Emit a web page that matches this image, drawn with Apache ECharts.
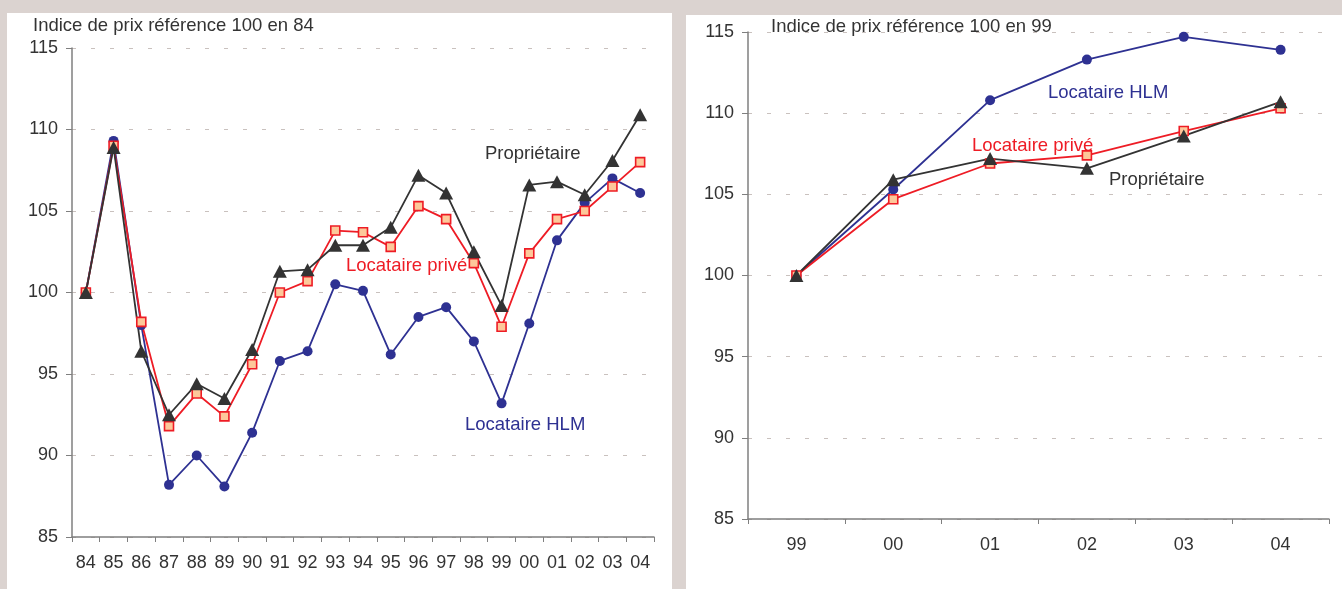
<!DOCTYPE html>
<html>
<head>
<meta charset="utf-8">
<script src="https://cdn.jsdelivr.net/npm/echarts@6/dist/echarts.min.js"></script>
<style>
  html, body { margin: 0; padding: 0; background: #dbd3d0; }
  #chart { width: 1342px; height: 589px; }
</style>
</head>
<body>
<div id="chart"></div>
<script>
// Years 1984-2004 (base 100 in 84)
const yearsLong = ['84','85','86','87','88','89','90','91','92','93','94','95','96','97','98','99','00','01','02','03','04'];
const hlmLong = [100, 109.3, 98.0, 88.2, 90.0, 88.1, 91.4, 95.8, 96.4, 100.5, 100.1, 96.2, 98.5, 99.1, 97.0, 93.2, 98.1, 103.2, 105.5, 107.0, 106.1];
const priveLong = [100, 109.0, 98.2, 91.8, 93.8, 92.4, 95.6, 100.0, 100.7, 103.8, 103.7, 102.8, 105.3, 104.5, 101.8, 97.9, 102.4, 104.5, 105.0, 106.5, 108.0];
const proprioLong = [100, 108.9, 96.4, 92.5, 94.4, 93.5, 96.5, 101.3, 101.4, 102.9, 102.9, 104.0, 107.2, 106.1, 102.5, 99.2, 106.6, 106.8, 106.0, 108.1, 110.9];

// Years 1999-2004 (base 100 in 99)
const yearsShort = ['99','00','01','02','03','04'];
const hlmShort = [100, 105.3, 110.8, 113.3, 114.7, 113.9];
const priveShort = [100, 104.7, 106.9, 107.4, 108.9, 110.3];
const proprioShort = [100, 105.9, 107.2, 106.6, 108.6, 110.7];

const titleLong = 'Indice de prix référence 100 en 84';
const titleShort = 'Indice de prix référence 100 en 99';
const nameHlm = 'Locataire HLM';
const namePrive = 'Locataire privé';
const nameProprio = 'Propriétaire';

const FONT = '"Liberation Sans", Arial, Helvetica, sans-serif';
const TEXT = '#333333';
const NAVY = '#2e3192';
const RED = '#ee1c25';
const DARK = '#333333';
const AXIS = '#7f7f7f';

const chart = echarts.init(document.getElementById('chart'), null, { renderer: 'canvas' });

function yAxisCfg(gridIndex) {
  return {
    type: 'value', gridIndex, min: 85, max: 115, interval: 5,
    axisLine: { show: true, lineStyle: { color: AXIS, width: 1.5 } },
    axisTick: { show: true, length: 6, lineStyle: { color: AXIS } },
    axisLabel: { color: TEXT, fontSize: 18, fontFamily: FONT, margin: 14 },
    splitLine: { show: true, lineStyle: { color: '#c9c1be', width: 1, type: [4, 15] } }
  };
}
function xAxisCfg(gridIndex, data) {
  return {
    type: 'category', gridIndex, data, boundaryGap: true,
    axisLine: { show: true, onZero: false, lineStyle: { color: AXIS, width: 1.5 } },
    axisTick: { show: true, length: 5, alignWithLabel: false, lineStyle: { color: AXIS } },
    axisLabel: { color: TEXT, fontSize: 18, fontFamily: FONT, margin: 17, interval: 0 },
    splitLine: { show: false }
  };
}
function hlm(idx, data) {
  return { name: nameHlm, type: 'line', xAxisIndex: idx, yAxisIndex: idx, data,
    symbol: 'circle', symbolSize: 10,
    lineStyle: { color: NAVY, width: 1.8 }, itemStyle: { color: NAVY } };
}
function prive(idx, data) {
  return { name: namePrive, type: 'line', xAxisIndex: idx, yAxisIndex: idx, data,
    symbol: 'rect', symbolSize: 9,
    lineStyle: { color: RED, width: 1.8 },
    itemStyle: { color: '#fdc89a', borderColor: RED, borderWidth: 1.6 } };
}
function proprio(idx, data) {
  return { name: nameProprio, type: 'line', xAxisIndex: idx, yAxisIndex: idx, data,
    symbol: 'triangle', symbolSize: [14, 13],
    lineStyle: { color: DARK, width: 1.8 }, itemStyle: { color: DARK } };
}
function label(text, x, y, color) {
  return { type: 'text', left: x, top: y - 11, z: 100,
    style: { text, fill: color, font: '18.5px ' + FONT } };
}

chart.setOption({
  animation: false,
  backgroundColor: '#dbd3d0',
  graphic: [
    { type: 'rect', shape: { x: 7, y: 13, width: 665, height: 576 }, style: { fill: '#ffffff' }, z: -10 },
    { type: 'rect', shape: { x: 686, y: 15, width: 656, height: 574 }, style: { fill: '#ffffff' }, z: -10 },
    label(titleLong, 33, 27, TEXT),
    label(titleShort, 771, 28, TEXT),
    label(nameProprio, 485, 155, DARK),
    label(namePrive, 346, 267, RED),
    label(nameHlm, 465, 426, NAVY),
    label(nameHlm, 1048, 94, NAVY),
    label(namePrive, 972, 147, RED),
    label(nameProprio, 1109, 181, DARK)
  ],
  grid: [
    { left: 72, top: 48, width: 582, height: 489 },
    { left: 748, top: 32, width: 581, height: 487 }
  ],
  xAxis: [xAxisCfg(0, yearsLong), xAxisCfg(1, yearsShort)],
  yAxis: [yAxisCfg(0), yAxisCfg(1)],
  series: [
    hlm(0, hlmLong), prive(0, priveLong), proprio(0, proprioLong),
    hlm(1, hlmShort), prive(1, priveShort), proprio(1, proprioShort)
  ]
});
</script>
</body>
</html>
